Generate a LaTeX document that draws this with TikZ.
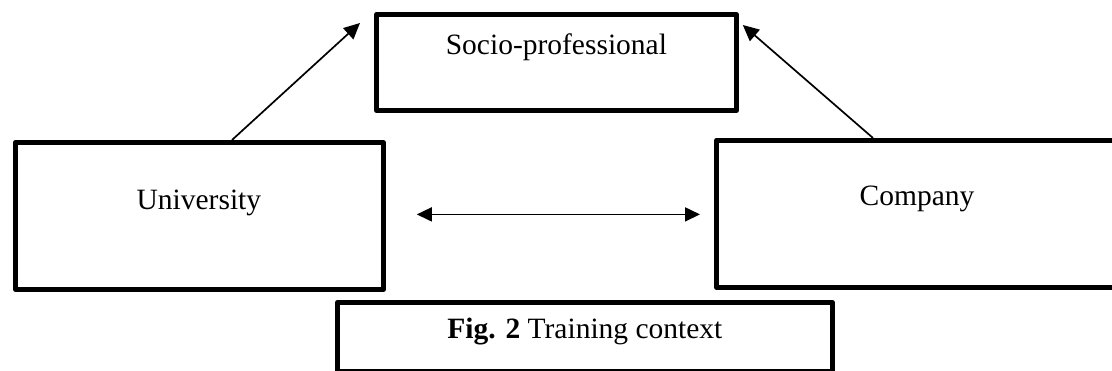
\documentclass[tikz,border=0pt]{standalone}
\usepackage{fontspec}
\setmainfont{Liberation Serif}
\usetikzlibrary{arrows.meta,calc}
\begin{document}
\begin{tikzpicture}[x=1pt,y=-1pt,
  box/.style={draw=black,line width=4.8pt,line join=round,rectangle,inner sep=0pt,anchor=north west},
  lbl/.style={anchor=base,inner sep=0pt,font=\fontsize{29.5}{34}\selectfont},
  link/.style={line width=1.7pt,-{Triangle[length=16pt,width=15pt]}},
  both/.style={line width=1.7pt,{Triangle[length=15pt,width=14pt]}-{Triangle[length=15pt,width=14pt]}}]
\useasboundingbox (0,0) rectangle (1112,371);
\clip (0,0) rectangle (1112,371);
% boxes
\node[box,minimum width=360pt,minimum height=96pt] (socio) at (374,12) {};
\node[box,minimum width=368pt,minimum height=147pt] (univ) at (13,140) {};
\node[box,minimum width=406pt,minimum height=147pt] (comp) at (714,138) {};
\node[box,minimum width=495pt,minimum height=69pt] (cap) at (335,300) {};
% labels
\node[lbl] (sociot) at ($(socio.north)+(0,43)$) {Socio-professional};
\node[lbl] (univt) at ($(univ.north)+(-0.5,70)$) {University};
\node[lbl] (compt) at ($(comp.north west)+(203,68)$) {Company};
\node[lbl] (capt) at ($(cap.north)+(0,39)$) {\textbf{Fig. 2} Training context};
% connectors
\draw[link] ($(univ.north west)+(219,0)$) -- ($(socio.north west)+(-14,11)$);
\draw[link] ($(comp.north west)+(159,0)$) -- ($(socio.north east)+(4,13)$);
\draw[both] ($(univ.east)+(31,-1.5)$) -- ($(comp.west)+(-14,0.5)$);
\end{tikzpicture}
\end{document}
